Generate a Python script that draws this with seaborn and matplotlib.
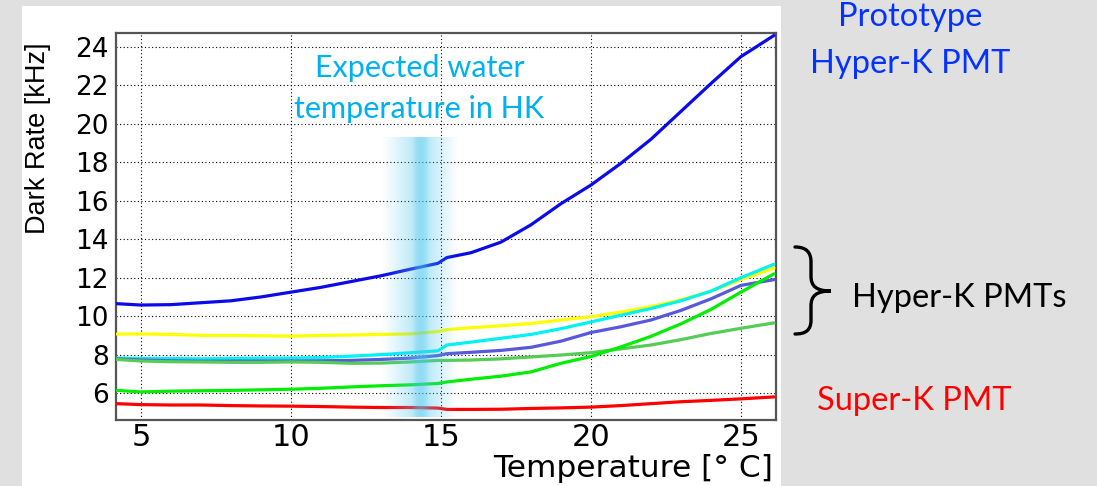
import numpy as np
import pandas as pd
import matplotlib
matplotlib.use("Agg")
import matplotlib.pyplot as plt
import seaborn as sns
from matplotlib.patches import Rectangle, PathPatch
from matplotlib.path import Path
from matplotlib.ticker import MultipleLocator

# ---------------- data ----------------
temperature = [4.2, 5, 6, 7, 8, 9, 10, 11, 12, 13, 14, 14.9, 15.2, 16, 17, 18,
               19, 20, 21, 22, 23, 24, 25, 26.1]
prototype_hk = [10.65, 10.58, 10.6, 10.7, 10.8, 11.0, 11.25, 11.5, 11.8, 12.1, 12.45, 12.75,
                13.05, 13.3, 13.85, 14.75, 15.85, 16.82, 17.95, 19.2, 20.65, 22.1, 23.5, 24.6]
hk_yellow = [9.07, 9.08, 9.05, 9.0, 9.0, 8.98, 8.96, 9.0, 9.02, 9.05, 9.08, 9.2,
             9.3, 9.4, 9.5, 9.62, 9.8, 9.97, 10.22, 10.5, 10.85, 11.3, 11.9, 12.5]
hk_cyan = [7.82, 7.8, 7.8, 7.78, 7.8, 7.82, 7.82, 7.85, 7.92, 8.0, 8.1, 8.2,
           8.5, 8.65, 8.85, 9.05, 9.35, 9.7, 10.05, 10.4, 10.8, 11.3, 12.0, 12.7]
hk_violet = [7.78, 7.72, 7.68, 7.66, 7.66, 7.67, 7.67, 7.68, 7.7, 7.75, 7.82, 7.95,
             8.05, 8.12, 8.22, 8.38, 8.7, 9.15, 9.45, 9.8, 10.3, 10.9, 11.6, 11.9]
hk_green_dark = [7.75, 7.67, 7.63, 7.62, 7.6, 7.6, 7.62, 7.6, 7.55, 7.56, 7.62, 7.7,
                 7.7, 7.72, 7.78, 7.88, 7.98, 8.1, 8.3, 8.5, 8.78, 9.1, 9.37, 9.65]
hk_green = [6.14, 6.06, 6.1, 6.12, 6.14, 6.17, 6.2, 6.25, 6.32, 6.38, 6.43, 6.5,
            6.58, 6.72, 6.88, 7.1, 7.55, 7.9, 8.4, 8.95, 9.6, 10.35, 11.25, 12.2]
super_k = [5.45, 5.4, 5.38, 5.38, 5.35, 5.33, 5.32, 5.3, 5.27, 5.25, 5.25, 5.22,
           5.15, 5.15, 5.16, 5.2, 5.23, 5.27, 5.35, 5.45, 5.55, 5.62, 5.7, 5.8]

series_names = ["Prototype HK", "HK yellow", "HK cyan", "HK violet",
                "HK green dark", "HK green", "Super-K"]
series_values = [prototype_hk, hk_yellow, hk_cyan, hk_violet,
                 hk_green_dark, hk_green, super_k]
series_colors = ["#0a0aea", "#ffff00", "#00f2f2", "#5858dc",
                 "#55cc55", "#00ee00", "#ff0000"]

x_ticks = [5, 10, 15, 20, 25]
y_ticks = [6, 8, 10, 12, 14, 16, 18, 20, 22, 24]

rows = []
for name, vals in zip(series_names, series_values):
    for t, v in zip(temperature, vals):
        rows.append({"T": t, "rate": v, "pmt": name})
df = pd.DataFrame(rows)

# ---------------- figure ----------------
sns.set_style("white")
plt.rcParams["font.family"] = ["DejaVu Sans"]
plt.rcParams["text.color"] = "black"
plt.rcParams["axes.labelcolor"] = "black"
plt.rcParams["xtick.color"] = "black"
plt.rcParams["ytick.color"] = "black"

W, H = 1097, 486
fig = plt.figure(figsize=(W / 100, H / 100), dpi=100)
fig.patch.set_facecolor("#e0e0e0")
fig.add_artist(Rectangle((22 / W, 0), (781 - 22) / W, (H - 6) / H,
                         transform=fig.transFigure, facecolor="white",
                         edgecolor="none", zorder=-5))

ax = fig.add_axes([116 / W, 66 / H, 660 / W, 387 / H])
ax.set_facecolor("white")

sns.lineplot(data=df, x="T", y="rate", hue="pmt", hue_order=series_names,
             palette=dict(zip(series_names, series_colors)), estimator=None,
             sort=False, linewidth=2.3, legend=False, ax=ax, zorder=3)

ax.set_xticks(x_ticks)
ax.set_yticks(y_ticks)
ax.xaxis.set_minor_locator(MultipleLocator(1))
ax.yaxis.set_minor_locator(MultipleLocator(0.4))
ax.tick_params(axis="x", which="major", direction="in", length=8.6, width=1.1,
               labelsize=22, pad=2, colors="black")
ax.tick_params(axis="x", which="minor", direction="in", length=3.6, width=1.0,
               colors="black")
ax.tick_params(axis="y", which="major", direction="in", length=14.4, width=1.1,
               labelsize=19, pad=5, colors="black")
ax.tick_params(axis="y", which="minor", direction="in", length=8.6, width=1.0,
               colors="black")
ax.grid(True, which="major", color="black", linestyle=(0, (1, 2.2)), linewidth=0.8)
ax.set_axisbelow(True)
for s in ax.spines.values():
    s.set_color("#555555")
    s.set_linewidth(1.6)

ax.set_xlabel("Temperature [° C]", fontsize=22.5, loc="right", va="top",
              color="black")
ax.xaxis.set_label_coords(0.995, -(454 - 420) / 387)
ax.set_ylabel("Dark Rate [kHz]", fontsize=19.5, loc="top", color="black",
              family=["Liberation Sans", "DejaVu Sans"])
ax.yaxis.set_label_coords(-(116 - 51) / 660, (H - 42 - 66) / 387)

# expected water temperature band (gradient)
xs = np.linspace(13.0, 15.6, 400)
c = 14.33
d = np.abs(xs - c)
half = np.where(xs < c, c - 13.0, 15.6 - c)
t = np.clip((d - 0.28) / (half - 0.28), 0, 1)
alpha = np.where(d < 0.28, 0.62 - 0.25 * (d / 0.28) ** 2, 0.37 * (1 - t) ** 1.1)
img = np.zeros((1, xs.size, 4))
img[..., 0] = 0.30
img[..., 1] = 0.78
img[..., 2] = 0.93
img[..., 3] = alpha
ax.imshow(img, extent=[13.0, 15.6, 4.75, 19.3], aspect="auto",
          interpolation="bilinear", zorder=4)
ax.set_xlim(4.17, 26.17)
ax.set_ylim(4.6, 24.73)

# ---------------- annotations ----------------
def fx(px):
    return px / W

def fy(py):
    return (H - py) / H

sf = ["Lato", "DejaVu Sans"]
fig.text(fx(420), fy(76.7), "Expected water", color="#00b0f0", fontsize=22,
         family=sf, ha="center", va="baseline", zorder=10)
fig.text(fx(419), fy(118), "temperature in HK", color="#00b0f0", fontsize=22,
         family=sf, ha="center", va="baseline", zorder=10)
fig.text(fx(910), fy(26), "Prototype", color="#0433ff", fontsize=23.5,
         family=sf, ha="center", va="baseline")
fig.text(fx(910), fy(73), "Hyper-K PMT", color="#0433ff", fontsize=23.5,
         family=sf, ha="center", va="baseline")
fig.text(fx(959), fy(306.7), "Hyper-K PMTs", color="black", fontsize=23.5,
         family=sf, ha="center", va="baseline")
fig.text(fx(914), fy(410), "Super-K PMT", color="#ff0000", fontsize=23.5,
         family=sf, ha="center", va="baseline")

# curly brace
pts = [(795, 247), (806, 247), (811, 252), (811, 262), (811, 276),
       (811, 286), (816, 291), (831, 291),
       (816, 291), (811, 296), (811, 306), (811, 320),
       (811, 330), (806, 334), (795, 334)]
codes = [Path.MOVETO, Path.CURVE4, Path.CURVE4, Path.CURVE4, Path.LINETO,
         Path.CURVE4, Path.CURVE4, Path.CURVE4,
         Path.CURVE4, Path.CURVE4, Path.CURVE4, Path.LINETO,
         Path.CURVE4, Path.CURVE4, Path.CURVE4]
brace = Path([(fx(a), fy(b)) for a, b in pts], codes)
fig.add_artist(PathPatch(brace, transform=fig.transFigure, facecolor="none",
                         edgecolor="black", linewidth=2.4, capstyle="round"))

fig.savefig("out.png", dpi=100, facecolor=fig.get_facecolor())
